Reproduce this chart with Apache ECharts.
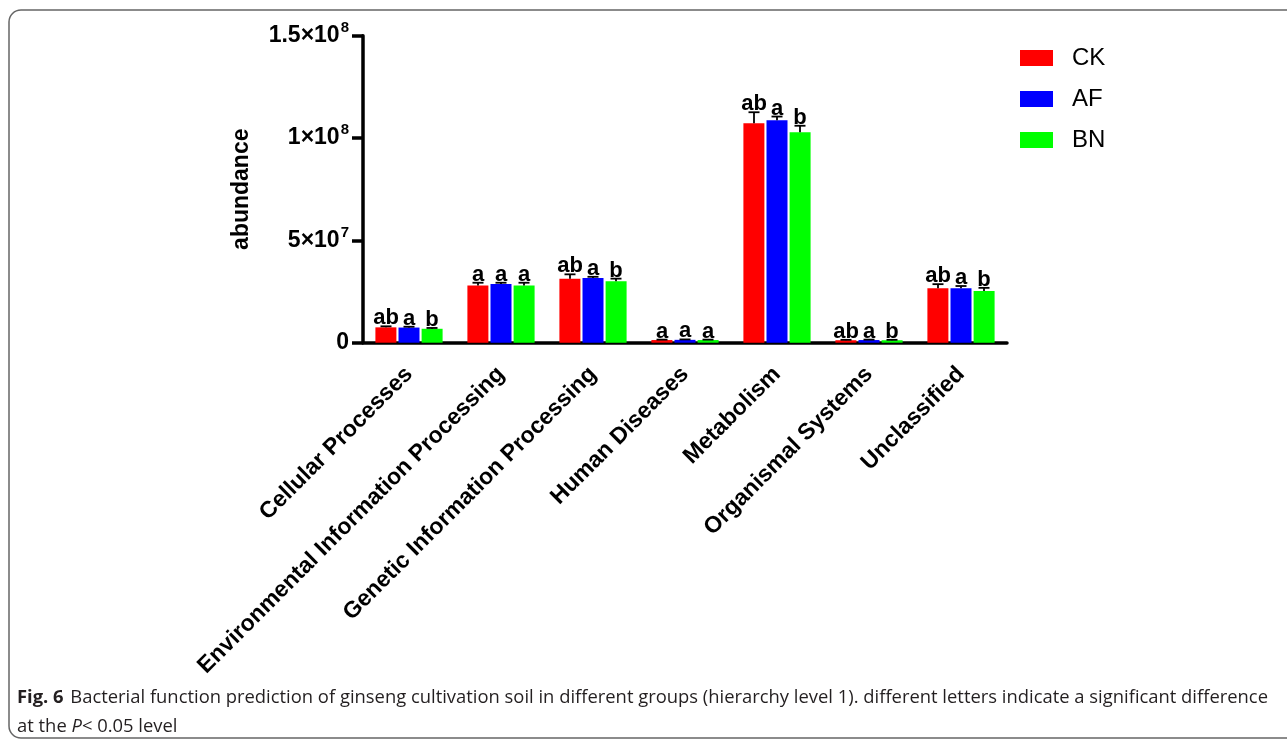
<!DOCTYPE html>
<html>
<head>
<meta charset="utf-8">
<script src="https://cdn.jsdelivr.net/npm/echarts@6/dist/echarts.min.js"></script>
<style>
  html, body { margin: 0; padding: 0; background: #fff; }
  #chart { width: 1287px; height: 740px; }
</style>
</head>
<body>
<div id="chart"></div>
<script>
// KEGG level-1 functional categories
const categories = [
  'Cellular Processes',
  'Environmental Information Processing',
  'Genetic Information Processing',
  'Human Diseases',
  'Metabolism',
  'Organismal Systems',
  'Unclassified'
];

const groups = ['CK', 'AF', 'BN'];
const groupColors = ['#ff0000', '#0000ff', '#00ff00'];

// Mean abundance per group
const ckValues = [7.5e6, 2.80e7, 3.13e7, 1.3e6, 1.072e8, 1.2e6, 2.66e7];
const afValues = [7.4e6, 2.87e7, 3.16e7, 1.4e6, 1.087e8, 1.3e6, 2.66e7];
const bnValues = [6.8e6, 2.80e7, 3.00e7, 1.3e6, 1.028e8, 1.2e6, 2.53e7];

// Standard deviation (upper error bar)
const ckErrors = [0.5e6, 1.3e6, 2.1e6, 0.2e6, 5.4e6, 0.2e6, 2.0e6];
const afErrors = [0.4e6, 0.6e6, 0.6e6, 0.2e6, 1.8e6, 0.2e6, 1.1e6];
const bnErrors = [0.4e6, 1.3e6, 1.3e6, 0.2e6, 3.2e6, 0.2e6, 1.5e6];

// Significance letters (P < 0.05)
const ckLetters = ['ab', 'a', 'ab', 'a', 'ab', 'ab', 'ab'];
const afLetters = ['a', 'a', 'a', 'a', 'a', 'a', 'a'];
const bnLetters = ['b', 'a', 'b', 'a', 'b', 'b', 'b'];

// Y-axis ticks
const yTickValues = [0, 5e7, 1e8, 1.5e8];
const yTickMantissa = ['0', '5×10', '1×10', '1.5×10'];
const yTickExponent = ['', '7', '8', '8'];

const values = [ckValues, afValues, bnValues];
const errors = [ckErrors, afErrors, bnErrors];
const letters = [ckLetters, afLetters, bnLetters];

const BAR_W = 21;
const BAR_STEP = 23;
const FONT = '"Liberation Sans", Arial, sans-serif';
const CAPTION_FONT = '"Open Sans", sans-serif';

const chart = echarts.init(document.getElementById('chart'), null, { renderer: 'canvas' });

const barSeries = groups.map((g, i) => ({
  name: g,
  type: 'bar',
  barWidth: BAR_W,
  barGap: '10%',
  itemStyle: { color: groupColors[i] },
  data: values[i],
  z: 2
}));

// Upper error bars with caps, and the significance letter above each
const errSeries = groups.map((g, i) => ({
  type: 'custom',
  name: g + '-err',
  z: 5,
  data: values[i].map((v, k) => [k, v, errors[i][k]]),
  renderItem: function (params, api) {
    const k = api.value(0);
    const v = api.value(1);
    const e = api.value(2);
    const base = api.coord([k, v]);
    const top = api.coord([k, v + e]);
    const x = base[0] + (i - 1) * BAR_STEP;
    const capHalf = 5.5;
    return {
      type: 'group',
      children: [
        {
          type: 'line',
          shape: { x1: x, y1: base[1], x2: x, y2: top[1] },
          style: { stroke: '#000', lineWidth: 1.8 }
        },
        {
          type: 'line',
          shape: { x1: x - capHalf, y1: top[1], x2: x + capHalf, y2: top[1] },
          style: { stroke: '#000', lineWidth: 1.8 }
        },
        {
          type: 'text',
          style: {
            text: letters[i][k],
            x: x,
            y: top[1] + 3,
            align: 'center',
            verticalAlign: 'bottom',
            font: 'bold 22px ' + FONT,
            fill: '#000'
          }
        }
      ]
    };
  }
}));

const option = {
  animation: false,
  backgroundColor: '#fff',
  textStyle: { fontFamily: FONT },
  grid: { left: 363, right: 280, top: 35.7, bottom: 397.3, containLabel: false },
  legend: {
    data: groups,
    orient: 'vertical',
    left: 1020,
    top: 46,
    padding: 0,
    itemWidth: 33,
    itemHeight: 16,
    itemGap: 17,
    icon: 'rect',
    textStyle: { fontSize: 24, color: '#000', fontFamily: FONT, padding: [0, 0, 0, 14] }
  },
  xAxis: {
    type: 'category',
    data: categories,
    axisLine: { lineStyle: { color: '#000', width: 3.5 } },
    axisTick: { alignWithLabel: true, length: 10, lineStyle: { color: '#000', width: 3.5 } },
    axisLabel: {
      rotate: 45,
      interval: 0,
      margin: 28,
      color: '#000',
      fontSize: 23,
      fontWeight: 'bold',
      fontFamily: FONT
    }
  },
  yAxis: {
    type: 'value',
    min: 0,
    max: 1.5e8,
    interval: 5e7,
    name: 'abundance',
    nameLocation: 'middle',
    nameGap: 110,
    nameRotate: 90,
    nameTextStyle: { fontSize: 23, fontWeight: 'bold', color: '#000', fontFamily: FONT },
    splitLine: { show: false },
    axisLine: { show: true, lineStyle: { color: '#000', width: 3.5 } },
    axisTick: { show: true, length: 11, lineStyle: { color: '#000', width: 3.5 } },
    axisLabel: {
      margin: 14,
      color: '#000',
      formatter: function (val) {
        const idx = yTickValues.indexOf(val);
        if (idx < 0) return '';
        if (!yTickExponent[idx]) return '{m|' + yTickMantissa[idx] + '}';
        return '{m|' + yTickMantissa[idx] + '}{s|' + yTickExponent[idx] + '}';
      },
      rich: {
        m: { fontSize: 23, fontWeight: 'bold', color: '#000', fontFamily: FONT },
        s: { fontSize: 15, fontWeight: 'bold', color: '#000', fontFamily: FONT, padding: [0, 0, 16, 1] }
      }
    }
  },
  graphic: [
    {
      type: 'rect',
      shape: { x: 9, y: 10, width: 1300, height: 728, r: [12, 0, 0, 12] },
      style: { fill: 'none', stroke: '#666', lineWidth: 1.5 },
      silent: true
    },
    {
      type: 'text',
      left: 17,
      top: 689,
      style: {
        text: '{b|Fig. 6}  {n|Bacterial function prediction of ginseng cultivation soil in different groups (hierarchy level 1). different letters indicate a significant difference}',
        rich: {
          b: { font: 'bold 18.4px ' + CAPTION_FONT, fill: '#231f20' },
          n: { font: '18.4px ' + CAPTION_FONT, fill: '#231f20' }
        }
      }
    },
    {
      type: 'text',
      left: 17,
      top: 718,
      style: {
        text: '{n|at the }{i|P}{n|< 0.05 level}',
        rich: {
          i: { font: 'italic 18.4px ' + CAPTION_FONT, fill: '#231f20' },
          n: { font: '18.4px ' + CAPTION_FONT, fill: '#231f20' }
        }
      }
    }
  ],
  series: barSeries.concat(errSeries)
};

chart.setOption(option);
</script>
</body>
</html>
